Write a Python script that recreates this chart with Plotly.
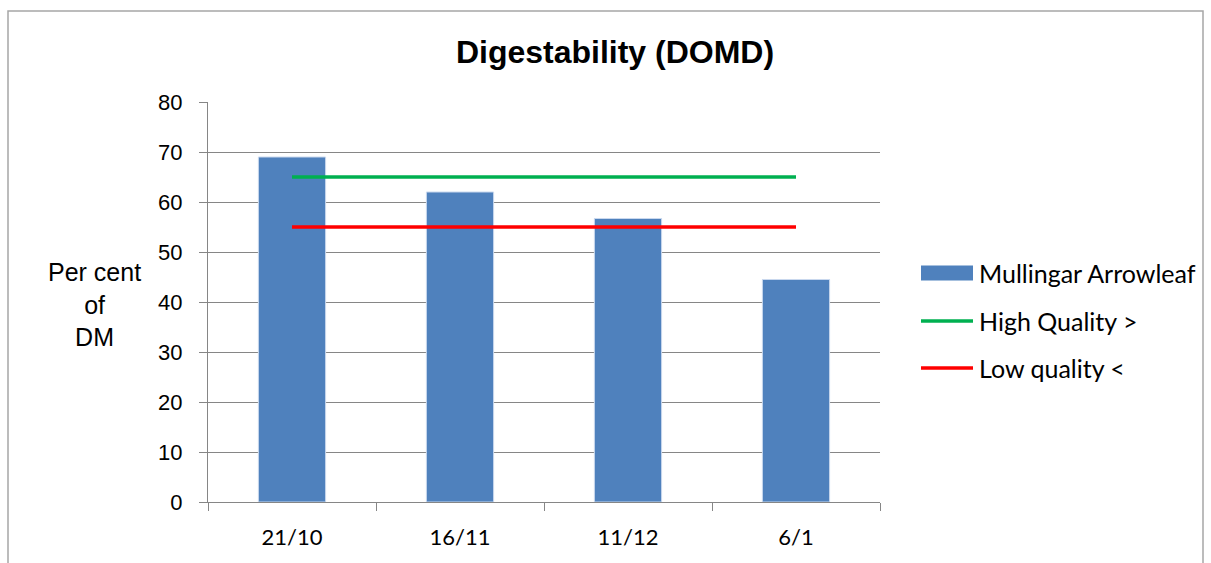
import plotly.graph_objects as go

# Sampling dates and measured digestibility (% of dry matter)
dates = ["21/10", "16/11", "11/12", "6/1"]
domd = [69, 62, 56.7, 44.5]

# Quality thresholds
high_quality = [65, 65, 65, 65]
low_quality = [55, 55, 55, 55]

y_ticks = [0, 10, 20, 30, 40, 50, 60, 70, 80]

BAR_COLOR = "#4F81BD"
HIGH_COLOR = "#00B050"
LOW_COLOR = "#FF0000"

# Plot-area geometry in pixels
W, H = 1211, 563
L, R, T, B = 208, 331, 102, 61
PW, PH = W - L - R, H - T - B


def px_x(x):
    return (x - L) / PW


def px_y(y):
    return (H - B - y) / PH


fig = go.Figure()
fig.add_trace(go.Bar(
    x=dates, y=domd, name="Mullingar Arrowleaf",
    marker=dict(color=BAR_COLOR, line=dict(color="#C9D8EE", width=1)),
))
fig.add_trace(go.Scatter(
    x=dates, y=high_quality, name="High Quality >", mode="lines",
    line=dict(color=HIGH_COLOR, width=3.5),
))
fig.add_trace(go.Scatter(
    x=dates, y=low_quality, name="Low quality <", mode="lines",
    line=dict(color=LOW_COLOR, width=3.5),
))

# Legend drawn at the right of the plot area
legend_items = [
    ("Mullingar Arrowleaf", BAR_COLOR, "rect", 273),
    ("High Quality >", HIGH_COLOR, "line", 321),
    ("Low quality <", LOW_COLOR, "line", 368),
]
shapes = [
    dict(type="rect", xref="paper", yref="paper",
         x0=px_x(8), x1=px_x(1203), y0=-1, y1=px_y(11),
         line=dict(color="#A6A6A6", width=1.5), layer="below"),
]
annotations = [
    dict(text="Per cent<br>of<br>DM", xref="paper", yref="paper",
         x=px_x(94), y=px_y(304), xanchor="center", yanchor="middle",
         showarrow=False, align="center",
         font=dict(family="Liberation Sans", size=25, color="black")),
]
for label, color, kind, yc in legend_items:
    if kind == "rect":
        shapes.append(dict(type="rect", xref="paper", yref="paper",
                           x0=px_x(921), x1=px_x(973),
                           y0=px_y(yc + 7.5), y1=px_y(yc - 7.5),
                           fillcolor=color, line=dict(width=0)))
    else:
        shapes.append(dict(type="line", xref="paper", yref="paper",
                           x0=px_x(921), x1=px_x(973),
                           y0=px_y(yc), y1=px_y(yc),
                           line=dict(color=color, width=3.5)))
    annotations.append(dict(text=label, xref="paper", yref="paper",
                            x=px_x(977), y=px_y(yc),
                            xanchor="left", yanchor="middle",
                            showarrow=False,
                            font=dict(family="Lato", size=25, color="black")))

fig.update_layout(
    width=W, height=H,
    margin=dict(l=L, r=R, t=T, b=B),
    paper_bgcolor="white", plot_bgcolor="white",
    bargap=0.6,
    showlegend=False,
    title=dict(
        text="<b>Digestability (DOMD)</b>",
        font=dict(family="Liberation Sans", size=32, color="black"),
        x=615 / W, xanchor="center", xref="container",
        y=1 - 52 / H, yanchor="middle", yref="container",
    ),
    xaxis=dict(
        type="category",
        showgrid=False,
        showline=True, linecolor="#868686", linewidth=1,
        ticks="outside", ticklen=8, tickcolor="#868686",
        tickson="boundaries",
        ticklabelstandoff=16,
        tickfont=dict(family="Lato", size=22, color="black"),
        fixedrange=True,
    ),
    yaxis=dict(
        range=[0, 80], tickvals=y_ticks,
        showgrid=True, gridcolor="#868686", gridwidth=1,
        showline=True, linecolor="#868686", linewidth=1,
        ticks="outside", ticklen=8, tickcolor="#868686",
        ticklabelstandoff=12,
        tickfont=dict(family="Liberation Sans", size=22, color="black"),
        zeroline=False,
        fixedrange=True,
    ),
    shapes=shapes,
    annotations=annotations,
)

fig.write_html("out.html")
